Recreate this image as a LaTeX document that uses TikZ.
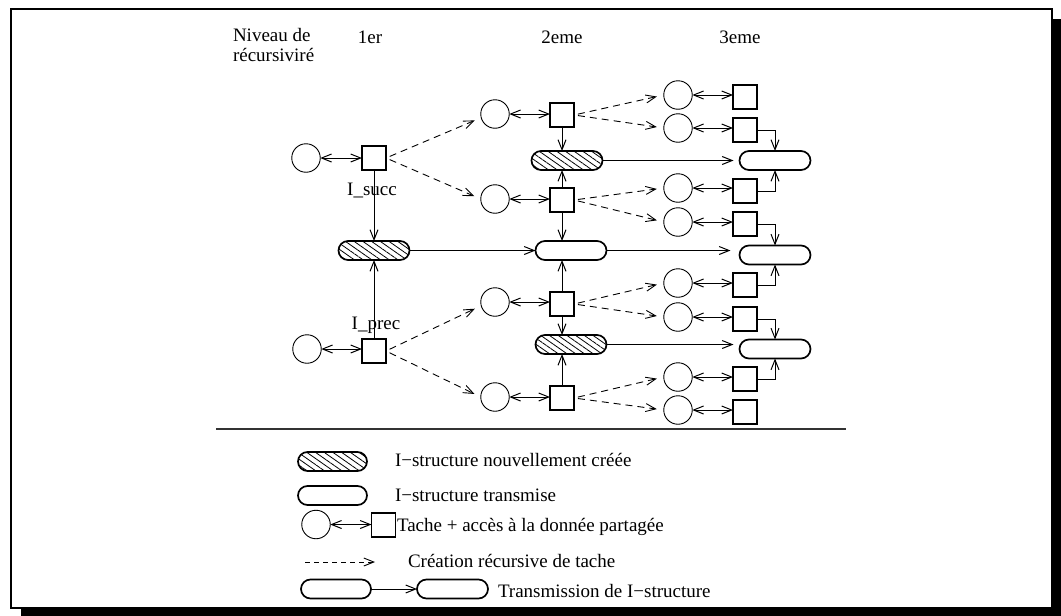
\documentclass[tikz,border=0pt]{standalone}
\usepackage{fontspec}
\setmainfont{Liberation Serif}
\usetikzlibrary{arrows.meta,patterns.meta}

\begin{document}
\begin{tikzpicture}[x=1pt,y=-1pt,
  >={Straight Barb[length=10pt,width=8pt]},
  every node/.style={inner sep=0pt, outer sep=0pt},
  txt/.style={font=\fontsize{19}{22}\selectfont, anchor=base},
  task/.style={circle, draw, line width=0.9pt, minimum size=28.5pt},
  data/.style={rectangle, draw, line width=1.1pt, minimum size=24pt},
  istr/.style={rectangle, rounded corners=9.5pt, draw, line width=1.7pt, minimum width=71pt, minimum height=19pt},
  inew/.style={istr, pattern={Lines[angle=-35,distance=5pt,line width=0.8pt]}},
  acc/.style={<->, line width=1pt},
  rec/.style={->, dash pattern=on 7pt off 5pt, line width=0.9pt, shorten <=4pt, shorten >=7pt},
  flow/.style={->, line width=1pt}]

\useasboundingbox (0,0) rectangle (1061,616);
% frame with shadow
\fill[black] (21,19) rectangle (1061,616);
\draw[line width=2pt, fill=white] (11,9) rectangle (1052,608);

% headings
\node[txt, anchor=base west] (niv1) at (233,41) {Niveau de};
\node[txt, anchor=base west] (niv2) at (233,61) {récursiviré};
\node[txt] (h1er) at (370,43) {1er};
\node[txt] (h2eme) at (562,43) {2eme};
\node[txt] (h3eme) at (740,43) {3eme};

% level 1
\node[task] (c11) at (306,158) {};
\node[data] (s11) at (374,158) {};
\node[task] (c12) at (307,349) {};
\node[data] (s12) at (374,351) {};
\node[inew] (h1) at (374,250.5) {};
\node[txt] (isucc) at (372,195) {I\_succ};
\node[txt] (iprec) at (376,329) {I\_prec};

% level 2
\node[task] (c21) at (495,114) {};
\node[data] (s21) at (562,115) {};
\node[inew] (h21) at (567,160.5) {};
\node[task] (c22) at (495,199) {};
\node[data] (s22) at (562,200) {};
\node[istr] (m2) at (571,250.5) {};
\node[task] (c23) at (495,302) {};
\node[data] (s23) at (562,304) {};
\node[inew] (h22) at (571,344.5) {};
\node[task] (c24) at (495,397) {};
\node[data] (s24) at (562,398) {};

% level 3
\foreach \i/\cy/\sy in {1/95/97,2/128/130,3/188/191,4/222/224,5/283/285,6/317/319,7/377/379,8/410/412}{
  \node[task] (c3\i) at (678,\cy) {};
  \node[data] (s3\i) at (745,\sy) {};
  \draw[acc] (c3\i.east) -- (c3\i.east -| s3\i.west);
}
\node[istr] (e31) at (775,160.5) {};
\node[istr] (e32) at (775,255) {};
\node[istr] (e33) at (775,349) {};

% access arrows levels 1-2
\foreach \n in {11,12,21,22,23,24}{
  \draw[acc] (c\n.east) -- (c\n.east -| s\n.west);
}

% recursive creation
\draw[rec] (s11.east) -- (c21.195);
\draw[rec] (s11.east) -- (c22.west);
\draw[rec] (s12.east) -- (c23.195);
\draw[rec] (s12.east) -- (c24.west);
\draw[rec] (s21.east) -- (c31.west);
\draw[rec] (s21.east) -- (c32.west);
\draw[rec] (s22.east) -- (c33.west);
\draw[rec] (s22.east) -- (c34.west);
\draw[rec] (s23.east) -- (c35.west);
\draw[rec] (s23.east) -- (c36.west);
\draw[rec] (s24.east) -- (c37.west);
\draw[rec] (s24.east) -- (c38.west);

% vertical links to I-structures
\draw[flow] (s11.south) -- (s11.south |- h1.north);
\draw[flow] (s12.north) -- (s12.north |- h1.south);
\draw[flow] (s21.south) -- (s21.south |- h21.north);
\draw[flow] (s22.north) -- (s22.north |- h21.south);
\draw[flow] (s22.south) -- (s22.south |- m2.north);
\draw[flow] (s23.north) -- (s23.north |- m2.south);
\draw[flow] (s23.south) -- (s23.south |- h22.north);
\draw[flow] (s24.north) -- (s24.north |- h22.south);
\draw[flow] (s32.east) -| (e31.north);
\draw[flow] (s33.east) -| (e31.south);
\draw[flow] (s34.east) -| (e32.north);
\draw[flow] (s35.east) -| (e32.south);
\draw[flow] (s36.east) -| (e33.north);
\draw[flow] (s37.east) -| (e33.south);

% transmission
\draw[flow] (h1.east) -- (m2.west);
\draw[flow, shorten >=6pt] (h21.east) -- (h21.east -| e31.west);
\draw[flow, shorten >=9pt] (m2.east) -- (m2.east -| e32.west);
\draw[flow, shorten >=6pt] (h22.east) -- (h22.east -| e33.west);

% separator
\coordinate (sepL) at (216,429);
\coordinate (sepR) at (846,429);
\draw[line width=1.3pt, black!80] (sepL) -- (sepR);

% legend
\node[inew, minimum width=69pt] (lh) at (332.5,461.5) {};
\node[txt, anchor=base west] (lht) at (395,466) {I−structure nouvellement créée};
\node[istr, minimum width=69pt] (lp) at (332.5,495.5) {};
\node[txt, anchor=base west] (lpt) at (395,501) {I−structure transmise};
\node[task] (lc) at (316,524.5) {};
\node[data] (ls) at (383.5,525) {};
\draw[acc] (lc.east) -- (lc.east -| ls.west);
\node[txt, anchor=base west] (lct) at (397,531) {Tache + accès à la donnée partagée};
\coordinate (ld1) at (305,562);
\coordinate (ld2) at (375,562);
\draw[->, dash pattern=on 5pt off 4pt, line width=0.9pt] (ld1) -- (ld2);
\node[txt, anchor=base west] (ldt) at (408,567) {Création récursive de tache};
\node[istr, minimum width=70pt] (la) at (336,589) {};
\node[istr] (lb) at (452.5,589) {};
\draw[flow] (la.east) -- (lb.west);
\node[txt, anchor=base west] (ltt) at (498,597) {Transmission de I−structure};
\end{tikzpicture}
\end{document}
